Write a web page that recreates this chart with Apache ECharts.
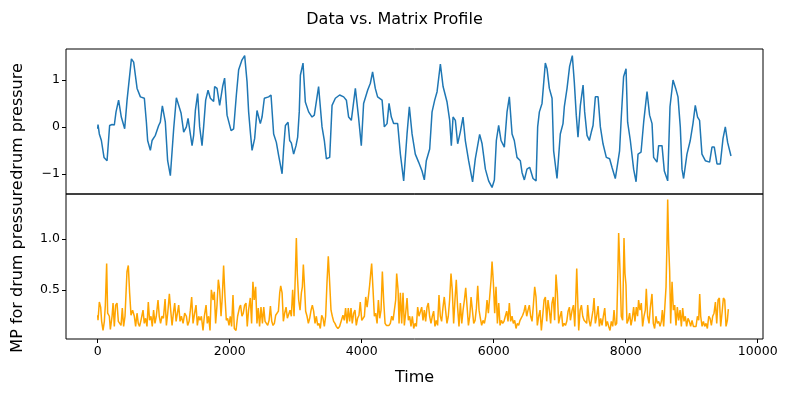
<!DOCTYPE html>
<html>
<head>
<meta charset="utf-8">
<script src="https://cdn.jsdelivr.net/npm/echarts@6/dist/echarts.min.js"></script>
<style>
html,body{margin:0;padding:0;background:#fff;}
#chart{width:789px;height:396px;}
</style>
</head>
<body>
<div id="chart"></div>
<script>
// drum pressure series (time index / value)
var dataTime = [0,5,25,56,81,96,142,166,181,218,252,278,317,358,409,445,511,545,597,647,707,738,757,798,824,874,924,949,980,1025,1060,1101,1117,1152,1192,1227,1264,1303,1344,1369,1430,1454,1480,1515,1545,1581,1605,1636,1672,1707,1757,1772,1808,1848,1893,1923,1960,2021,2060,2101,2136,2187,2227,2263,2287,2313,2339,2378,2414,2464,2490,2525,2590,2626,2666,2707,2742,2794,2818,2844,2884,2909,2934,2969,3005,3030,3054,3071,3111,3146,3196,3248,3282,3347,3399,3434,3465,3515,3551,3601,3666,3727,3768,3802,3843,3904,3954,3994,4029,4090,4131,4165,4206,4241,4309,4343,4384,4414,4449,4484,4545,4586,4636,4687,4722,4763,4812,4862,4914,4949,4979,5030,5066,5106,5142,5192,5233,5293,5333,5358,5384,5419,5454,5494,5535,5570,5620,5680,5721,5787,5824,5874,5923,5975,6010,6040,6075,6111,6161,6202,6237,6278,6312,6353,6403,6429,6464,6504,6545,6596,6642,6666,6692,6732,6782,6808,6843,6884,6908,6959,7009,7050,7070,7111,7150,7191,7221,7251,7277,7313,7354,7378,7414,7449,7479,7505,7540,7581,7616,7656,7706,7756,7792,7842,7877,7907,7933,7968,8005,8029,8070,8120,8157,8187,8232,8272,8323,8362,8399,8423,8474,8499,8550,8585,8636,8671,8717,8757,8792,8827,8853,8877,8928,8978,9019,9054,9089,9119,9155,9206,9271,9307,9342,9383,9433,9474,9509,9544,9595];
var dataValues = [-0.04,0.05,-0.15,-0.29,-0.33,-0.65,-0.72,-0.75,0.03,0.05,0.04,0.32,0.57,0.21,-0.04,0.57,1.45,1.38,0.82,0.64,0.61,0.10,-0.29,-0.5,-0.29,-0.18,0.03,0.1,0.45,0.1,-0.72,-1.04,-1.06,-0.03,0.62,0.46,0.29,-0.11,0.0,0.18,-0.4,-0.18,0.35,0.71,0,-0.4,0,0.57,0.78,0.61,0.54,0.86,0.82,0.46,0.86,1.04,0.25,-0.08,-0.04,0.68,1.22,1.43,1.52,0.96,0.32,-0.11,-0.5,-0.25,0.35,0.07,0.21,0.61,0.64,0.68,-0.15,-0.33,-0.61,-1.0,-0.44,0.03,0.1,-0.29,-0.34,-0.58,-0.4,-0.22,0.32,1.1,1.36,0.53,0.32,0.21,0.25,0.86,0,-0.29,-0.68,-0.65,0.46,0.61,0.68,0.64,0.57,0.21,0.14,0.82,0.18,-0.4,0.5,0.78,0.93,1.17,0.82,0.64,0.57,0,0.07,0.5,0.21,0.07,0.07,-0.58,-1.15,-0.15,0.43,-0.15,-0.58,-0.75,-0.94,-1.13,-0.72,-0.47,0.32,0.57,0.75,1.34,0.86,0.53,0.14,-0.4,0.21,0.14,-0.36,-0.11,0.21,-0.29,-0.72,-1.17,-0.68,-0.16,-0.36,-0.9,-1.15,-1.29,-1.13,-0.29,0.03,-0.29,-0.43,0.32,0.64,-0.15,-0.29,-0.65,-0.72,-0.97,-1.13,-0.9,-0.86,-1.1,-1.15,0,0.32,0.5,1.36,1.24,0.82,0.61,-0.51,-1.1,-0.15,0.07,0.43,0.82,1.29,1.52,0.96,0.25,-0.22,0.46,0.89,0.32,-0.18,-0.29,-0.11,0.03,0.64,0.64,0,-0.36,-0.65,-0.68,-0.86,-1.1,-0.79,-0.51,0.21,1.07,1.24,0.1,-0.29,-0.9,-1.17,-0.58,-0.54,0.1,0.75,0.25,0.07,-0.65,-0.75,-0.4,-0.4,-0.94,-1.15,0.43,1.0,0.82,0.64,0,-0.9,-1.1,-0.58,-0.29,0.07,0.46,0.21,0.14,-0.58,-0.72,-0.75,-0.43,-0.43,-0.79,-0.79,-0.25,0,-0.33,-0.62];

// matrix profile series
var mpTime = [0,5,25,45,60,81,101,116,136,151,177,192,218,233,252,272,293,313,333,354,373,393,414,444,464,484,505,529,555,575,596,615,635,656,687,706,726,747,767,786,808,827,847,868,888,914,933,953,974,996,1021,1041,1061,1086,1106,1127,1147,1167,1188,1208,1227,1248,1268,1294,1318,1344,1363,1385,1404,1424,1445,1469,1490,1510,1530,1551,1571,1596,1616,1642,1661,1681,1702,1722,1748,1767,1787,1808,1828,1848,1869,1888,1908,1929,1949,1969,1990,2009,2029,2050,2070,2096,2120,2150,2165,2186,2206,2226,2247,2266,2286,2312,2332,2352,2372,2393,2413,2433,2453,2474,2496,2516,2536,2556,2576,2597,2617,2637,2657,2677,2697,2718,2738,2758,2773,2794,2813,2833,2854,2874,2894,2914,2934,2954,2975,2995,3010,3025,3045,3066,3086,3101,3116,3131,3151,3172,3192,3212,3233,3252,3272,3293,3313,3333,3353,3373,3394,3414,3434,3454,3474,3494,3514,3535,3555,3575,3595,3615,3640,3665,3691,3716,3736,3756,3777,3797,3817,3838,3857,3878,3898,3918,3938,3959,3978,4001,4021,4041,4061,4082,4101,4121,4136,4151,4172,4192,4212,4233,4253,4273,4293,4313,4334,4354,4374,4393,4414,4434,4454,4475,4495,4515,4530,4551,4566,4586,4606,4626,4646,4666,4687,4707,4727,4747,4767,4788,4808,4828,4848,4868,4889,4909,4929,4949,4969,4990,5009,5029,5050,5070,5090,5110,5130,5150,5171,5191,5211,5232,5251,5271,5292,5312,5332,5353,5372,5393,5413,5433,5453,5474,5495,5516,5536,5556,5576,5597,5617,5637,5657,5677,5697,5718,5738,5758,5778,5798,5818,5838,5859,5879,5899,5919,5939,5960,5975,5995,6015,6035,6056,6076,6096,6116,6136,6156,6176,6197,6217,6237,6257,6278,6297,6318,6338,6358,6378,6399,6419,6439,6460,6479,6500,6520,6540,6560,6581,6601,6621,6641,6661,6682,6702,6722,6742,6763,6783,6803,6823,6843,6863,6883,6903,6923,6944,6964,6984,7006,7026,7046,7067,7087,7107,7127,7147,7162,7188,7208,7228,7243,7258,7273,7288,7309,7329,7349,7369,7389,7409,7424,7445,7465,7485,7505,7520,7540,7560,7581,7601,7621,7641,7661,7682,7702,7722,7742,7762,7782,7803,7823,7843,7863,7878,7893,7913,7933,7954,7974,7989,8004,8019,8039,8059,8080,8100,8120,8140,8161,8180,8195,8216,8236,8256,8277,8297,8312,8332,8353,8372,8398,8418,8438,8458,8479,8500,8520,8540,8555,8575,8596,8611,8626,8636,8651,8666,8681,8702,8722,8742,8762,8782,8802,8823,8843,8863,8883,8903,8923,8944,8964,8984,9005,9025,9045,9066,9086,9106,9121,9136,9157,9177,9197,9217,9237,9258,9278,9298,9318,9338,9359,9379,9399,9419,9439,9459,9480,9500,9520,9540,9555];
var mpValues = [0.25,0.2,0.38,0.33,0.19,0.1,0.19,0.35,0.76,0.27,0.24,0.11,0.24,0.37,0.14,0.35,0.37,0.19,0.2,0.15,0.32,0.14,0.24,0.68,0.74,0.47,0.25,0.3,0.24,0.14,0.27,0.17,0.14,0.2,0.3,0.17,0.22,0.14,0.38,0.2,0.24,0.14,0.3,0.17,0.24,0.4,0.24,0.17,0.24,0.22,0.41,0.15,0.27,0.46,0.3,0.15,0.27,0.37,0.19,0.27,0.35,0.19,0.24,0.17,0.27,0.24,0.15,0.19,0.3,0.43,0.17,0.27,0.35,0.15,0.24,0.2,0.24,0.1,0.24,0.35,0.17,0.24,0.1,0.5,0.4,0.48,0.17,0.35,0.6,0.5,0.24,0.43,0.74,0.43,0.2,0.22,0.15,0.24,0.14,0.45,0.12,0.1,0.24,0.33,0.35,0.24,0.27,0.35,0.37,0.14,0.3,0.42,0.17,0.58,0.4,0.53,0.17,0.32,0.14,0.33,0.17,0.33,0.19,0.2,0.15,0.2,0.34,0.19,0.15,0.17,0.25,0.24,0.29,0.47,0.54,0.47,0.19,0.27,0.33,0.22,0.22,0.3,0.24,0.5,0.24,0.66,1.01,0.65,0.4,0.3,0.47,0.53,0.75,0.57,0.29,0.24,0.17,0.22,0.3,0.35,0.29,0.17,0.24,0.15,0.17,0.12,0.25,0.22,0.14,0.24,0.57,0.83,0.58,0.3,0.24,0.19,0.17,0.14,0.12,0.14,0.15,0.25,0.2,0.32,0.17,0.32,0.19,0.32,0.17,0.27,0.3,0.15,0.22,0.25,0.38,0.2,0.19,0.24,0.43,0.33,0.43,0.55,0.66,0.76,0.5,0.24,0.27,0.17,0.4,0.22,0.3,0.68,0.38,0.17,0.15,0.14,0.15,0.17,0.24,0.2,0.3,0.4,0.66,0.5,0.17,0.47,0.17,0.47,0.15,0.27,0.42,0.2,0.24,0.14,0.24,0.12,0.17,0.14,0.33,0.24,0.25,0.33,0.2,0.3,0.19,0.33,0.37,0.24,0.17,0.24,0.29,0.14,0.2,0.15,0.45,0.24,0.19,0.33,0.43,0.3,0.17,0.24,0.4,0.66,0.5,0.17,0.4,0.6,0.33,0.14,0.37,0.17,0.3,0.4,0.52,0.33,0.15,0.24,0.43,0.3,0.17,0.2,0.32,0.54,0.3,0.22,0.15,0.2,0.17,0.24,0.4,0.27,0.43,0.6,0.78,0.57,0.27,0.53,0.17,0.37,0.15,0.2,0.17,0.19,0.24,0.29,0.19,0.37,0.19,0.24,0.17,0.2,0.12,0.17,0.15,0.2,0.19,0.25,0.29,0.35,0.24,0.3,0.35,0.24,0.19,0.35,0.53,0.43,0.15,0.24,0.3,0.1,0.24,0.4,0.43,0.19,0.4,0.3,0.17,0.37,0.43,0.2,0.65,0.47,0.17,0.24,0.29,0.14,0.17,0.15,0.19,0.29,0.33,0.2,0.3,0.35,0.14,0.4,0.71,0.4,0.1,0.3,0.35,0.24,0.2,0.19,0.17,0.35,0.2,0.14,0.22,0.3,0.42,0.17,0.24,0.34,0.14,0.22,0.15,0.24,0.32,0.14,0.19,0.14,0.1,0.19,0.14,0.3,0.15,0.17,0.57,1.06,0.7,0.24,0.2,1.01,0.66,0.55,0.17,0.2,0.27,0.15,0.22,0.33,0.19,0.33,0.24,0.4,0.3,0.37,0.14,0.24,0.3,0.51,0.24,0.17,0.32,0.46,0.17,0.12,0.24,0.17,0.19,0.14,0.19,0.3,0.14,0.15,0.53,0.99,1.39,0.94,0.68,0.17,0.58,0.3,0.35,0.15,0.33,0.2,0.3,0.14,0.32,0.19,0.24,0.14,0.22,0.19,0.14,0.2,0.14,0.15,0.14,0.24,0.2,0.46,0.24,0.14,0.19,0.14,0.17,0.12,0.24,0.22,0.15,0.24,0.27,0.38,0.17,0.4,0.42,0.14,0.27,0.42,0.4,0.14,0.2,0.31];

var timeTicks = [0,2000,4000,6000,8000,10000];
var dataTicks = [-1,0,1];
var mpTicks = [0.5,1.0];

var FONT = "DejaVu Sans";

/****
 * 把两个数组拼成 [x,y] 点
 */
function toPairs(xs, ys){
	var out = [];
	for(var i=0;i<xs.length && i<ys.length;i++){
		out.push([xs[i], ys[i]]);
	}
	return out;
}

function baseY(gridIndex, min, max, ticks, name, fmt){
	return {
		type:'value',
		gridIndex:gridIndex,
		position:'left',
		min:min,
		max:max,
		name:name,
		nameLocation:'middle',
		nameRotate:90,
		nameGap:40,
		nameTextStyle:{fontFamily:FONT,fontSize:16,color:'#000'},
		axisLine:{show:false,onZero:false},
		splitLine:{show:false},
		axisTick:{show:true,length:4,inside:false,customValues:ticks,lineStyle:{color:'#000',width:1}},
		axisLabel:{show:true,margin:6,customValues:ticks,fontFamily:FONT,fontSize:12.5,color:'#000',formatter:fmt}
	};
}

var chart = echarts.init(document.getElementById('chart'), null, {renderer:'canvas'});
var option = {
	animation:false,
	backgroundColor:'#fff',
	title:{
		text:'Data vs. Matrix Profile',
		left:'center',
		top:7,
		textStyle:{fontFamily:FONT,fontSize:16,fontWeight:'normal',color:'#000'}
	},
	grid:[
		{left:66,top:49,width:697,height:145,show:true,borderColor:'#000',borderWidth:1,backgroundColor:'transparent'},
		{left:66,top:194,width:697,height:145,show:true,borderColor:'#000',borderWidth:1,backgroundColor:'transparent'}
	],
	xAxis:[
		{type:'value',gridIndex:0,min:-480,max:10080,axisLine:{show:false,onZero:false},axisTick:{show:false},axisLabel:{show:false},splitLine:{show:false}},
		{type:'value',gridIndex:1,position:'bottom',min:-480,max:10080,
			name:'Time',nameLocation:'middle',nameGap:31,
			nameTextStyle:{fontFamily:FONT,fontSize:16,color:'#000'},
			axisLine:{show:false,onZero:false},splitLine:{show:false},
			axisTick:{show:true,length:4,customValues:timeTicks,lineStyle:{color:'#000',width:1}},
			axisLabel:{show:true,margin:6,customValues:timeTicks,fontFamily:FONT,fontSize:12.5,color:'#000',
				formatter:function(v){ return String(v); }}
		}
	],
	yAxis:[
		baseY(0,-1.43,1.66,dataTicks,'drum pressure',function(v){ return v<0 ? '\u2212'+Math.abs(v) : String(v); }),
		baseY(1,0.016,1.444,mpTicks,'MP for drum pressure',function(v){ return v.toFixed(1); })
	],
	series:[
		{type:'line',xAxisIndex:0,yAxisIndex:0,data:toPairs(dataTime,dataValues),showSymbol:false,
			lineStyle:{color:'#1f77b4',width:1.5},itemStyle:{color:'#1f77b4'}},
		{type:'line',xAxisIndex:1,yAxisIndex:1,data:toPairs(mpTime,mpValues),showSymbol:false,
			lineStyle:{color:'#ffa500',width:1.5},itemStyle:{color:'#ffa500'}}
	]
};
chart.setOption(option);
</script>
</body>
</html>
